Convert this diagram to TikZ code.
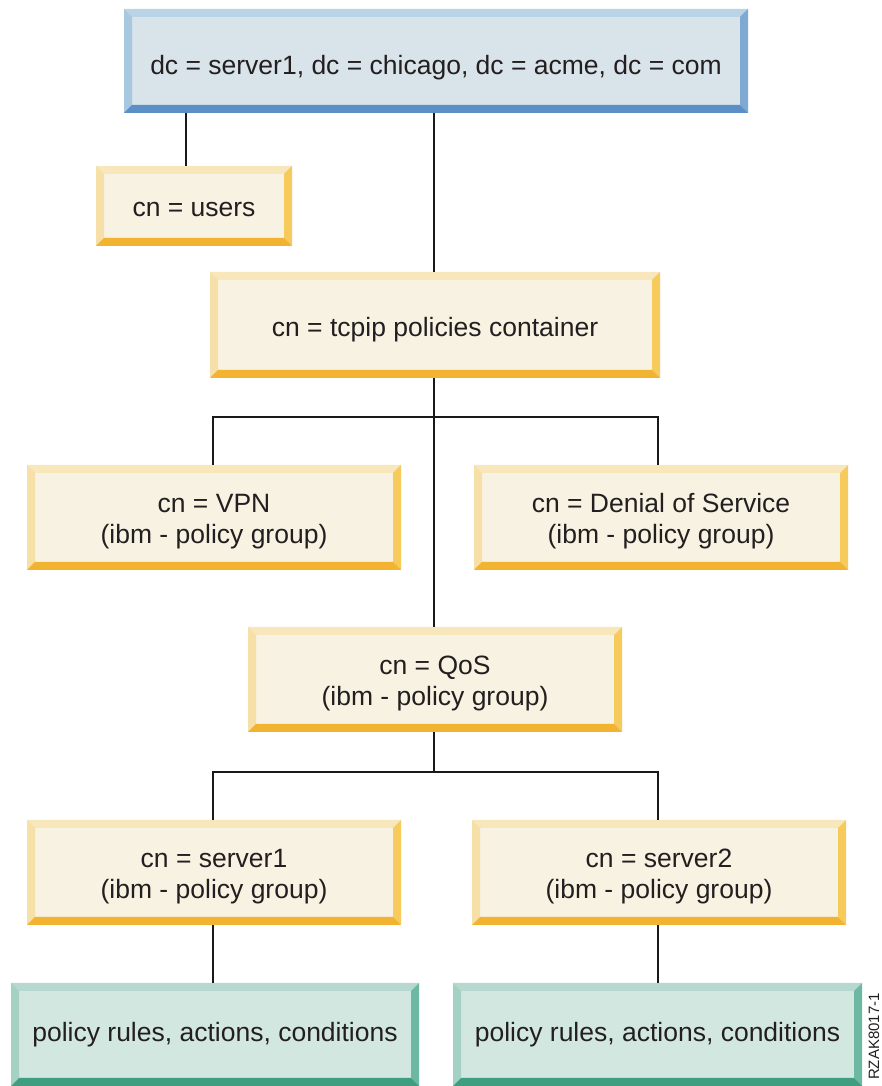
\documentclass[tikz,border=0pt]{standalone}
\usepackage{fontspec}
\setmainfont{Liberation Sans}
\definecolor{txt}{HTML}{231F20}
\definecolor{bFill}{HTML}{D9E3EA}
\definecolor{bTop}{HTML}{B9D4E6}
\definecolor{bLeft}{HTML}{A8C8E0}
\definecolor{bRight}{HTML}{7EA9D3}
\definecolor{bBot}{HTML}{5D8FC7}
\definecolor{yFill}{HTML}{F7F2E1}
\definecolor{yTop}{HTML}{F9E7BC}
\definecolor{yLeft}{HTML}{F7E0A8}
\definecolor{yRight}{HTML}{F6CB5C}
\definecolor{yBot}{HTML}{F2B330}
\definecolor{gFill}{HTML}{D3E7E1}
\definecolor{gTop}{HTML}{B7D8CF}
\definecolor{gLeft}{HTML}{A3D1C3}
\definecolor{gRight}{HTML}{6CB8A2}
\definecolor{gBot}{HTML}{3F9E80}
\def\bevw{8}
\newcommand\firststrut{\rule{0pt}{26pt}}
\begin{document}
\begin{tikzpicture}[x=1pt,y=1pt,
  bev/.style n args={5}{rectangle, inner sep=0pt, align=center, text=txt,
    font=\fontsize{26.5}{31}\selectfont, fill=#1,
    path picture={
      \fill[#2] (path picture bounding box.north west) -- (path picture bounding box.north east) -- ++(-\bevw,-\bevw) -- ([shift={(\bevw,-\bevw)}]path picture bounding box.north west) -- cycle;
      \fill[#3] (path picture bounding box.north west) -- (path picture bounding box.south west) -- ++(\bevw,\bevw) -- ([shift={(\bevw,-\bevw)}]path picture bounding box.north west) -- cycle;
      \fill[#4] (path picture bounding box.north east) -- (path picture bounding box.south east) -- ++(-\bevw,\bevw) -- ([shift={(-\bevw,-\bevw)}]path picture bounding box.north east) -- cycle;
      \fill[#5] (path picture bounding box.south west) -- (path picture bounding box.south east) -- ++(-\bevw,\bevw) -- ([shift={(\bevw,\bevw)}]path picture bounding box.south west) -- cycle;
    }},
  bluebox/.style={bev={bFill}{bTop}{bLeft}{bRight}{bBot}},
  yelbox/.style={bev={yFill}{yTop}{yLeft}{yRight}{yBot}},
  grnbox/.style={bev={gFill}{gTop}{gLeft}{gRight}{gBot}},
  conn/.style={draw=black!90, line width=1.2pt}]
\useasboundingbox (0,0) rectangle (881,1086);

\node[bluebox, minimum width=624, minimum height=104, text height=29pt, text depth=2pt] (top) at (436,1025) {dc = server1, dc = chicago, dc = acme, dc = com};
\node[yelbox, minimum width=196, minimum height=80, text height=23pt, text depth=2pt] (users) at (194,880) {cn = users};
\node[yelbox, minimum width=450, minimum height=106, text height=25pt, text depth=2pt] (tcpip) at (435,761) {cn = tcpip policies container};
\node[yelbox, minimum width=374, minimum height=105] (vpn) at (214,568.5) {\firststrut cn = VPN\\(ibm - policy group)};
\node[yelbox, minimum width=374, minimum height=105] (dos) at (661,568.5) {\firststrut cn = Denial of Service\\(ibm - policy group)};
\node[yelbox, minimum width=374, minimum height=105] (qos) at (435,406.5) {\firststrut cn = QoS\\(ibm - policy group)};
\node[yelbox, minimum width=374, minimum height=105] (s1) at (214,213.5) {\firststrut cn = server1\\(ibm - policy group)};
\node[yelbox, minimum width=374, minimum height=105] (s2) at (659,213.5) {\firststrut cn = server2\\(ibm - policy group)};
\node[grnbox, minimum width=408, minimum height=103, text height=20pt, text depth=5pt] (pl) at (215,51.5) {policy rules, actions, conditions};
\node[grnbox, minimum width=409, minimum height=103, text height=20pt, text depth=5pt] (pr) at (657.5,51.5) {policy rules, actions, conditions};

\node[rotate=90, anchor=base east, inner sep=0pt, text=txt, font=\fontsize{15}{15}\selectfont] (code) at (879,93) {RZAK8017-1};

\coordinate (b1) at (434,669);
\coordinate (b2) at (434,314);

\draw[conn] ([xshift=-8pt]users.north) -- ([xshift=-8pt]users.north |- top.south);
\draw[conn] ([xshift=-1pt]tcpip.north) -- ([xshift=-1pt]tcpip.north |- top.south);
\draw[conn] ([xshift=-1pt]tcpip.south) -- ([xshift=-1pt]qos.north);
\draw[conn] ([xshift=-1pt]vpn.north) |- (b1) -| ([xshift=-3pt]dos.north);
\draw[conn] ([xshift=-1pt]qos.south) -- (b2);
\draw[conn] ([xshift=-1pt]s1.north) |- (b2) -| ([xshift=-1pt]s2.north);
\draw[conn] ([xshift=-1pt]s1.south) -- ([xshift=-1pt]s1.south |- pl.north);
\draw[conn] ([xshift=-1pt]s2.south) -- ([xshift=-1pt]s2.south |- pr.north);
\end{tikzpicture}
\end{document}
